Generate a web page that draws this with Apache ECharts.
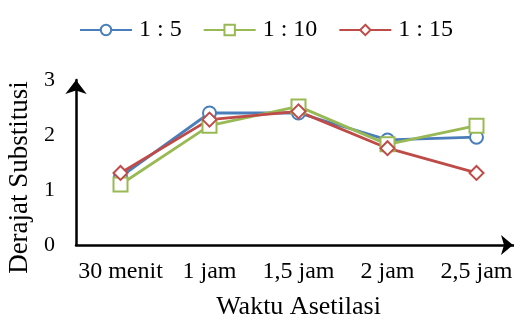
<!DOCTYPE html>
<html>
<head>
<meta charset="utf-8">
<script src="https://cdn.jsdelivr.net/npm/echarts@6/dist/echarts.min.js"></script>
<style>
  html, body { margin: 0; padding: 0; background: #fff; }
  #chart { width: 514px; height: 321px; }
</style>
</head>
<body>
<div id="chart"></div>
<script>
// Waktu asetilasi (kategori sumbu x)
const categories = ['30 menit', '1 jam', '1,5 jam', '2 jam', '2,5 jam'];
// Derajat substitusi untuk tiap rasio
const ratio1_5 = [1.24, 2.40, 2.40, 1.91, 1.96];
const ratio1_10 = [1.10, 2.17, 2.52, 1.83, 2.17];
const ratio1_15 = [1.31, 2.28, 2.43, 1.76, 1.31];
const seriesNames = ['1 : 5', '1 : 10', '1 : 15'];
const yTicks = [0, 1, 2, 3];

const FONT = '"Liberation Serif", "Times New Roman", serif';
const colors = ['#4A7EBB', '#98B954', '#BE4B48'];
const symbols = ['circle', 'rect', 'diamond'];
const symbolSizes = [13, 14, 14];
const values = [ratio1_5, ratio1_10, ratio1_15];

const chart = echarts.init(document.getElementById('chart'), null, { renderer: 'canvas' });
chart.setOption({
  animation: false,
  color: colors,
  textStyle: { fontFamily: FONT, color: '#000' },
  legend: {
    top: 13,
    left: 74,
    itemWidth: 52,
    itemHeight: 13,
    itemGap: 21,
    textStyle: { fontFamily: FONT, fontSize: 24, color: '#000', padding: [0, 0, 0, 2] },
    data: seriesNames
  },
  grid: {
    left: 76, right: -7, top: 80, bottom: 76,
    containLabel: false,
    outerBoundsMode: 'none'
  },
  xAxis: {
    type: 'category',
    data: categories,
    boundaryGap: true,
    name: 'Waktu Asetilasi',
    nameLocation: 'middle',
    nameGap: 49,
    nameTextStyle: { fontFamily: FONT, fontSize: 26, color: '#000' },
    axisLine: {
      lineStyle: { color: '#000', width: 2.5 },
      symbol: ['none', 'arrow'],
      symbolSize: [15, 12],
      symbolOffset: [0, -8]
    },
    axisTick: { show: false },
    axisLabel: { interval: 0, fontFamily: FONT, fontSize: 24, color: '#000', margin: 15 },
    splitLine: { show: false }
  },
  yAxis: {
    type: 'value',
    min: yTicks[0],
    max: yTicks[yTicks.length - 1],
    interval: 1,
    name: 'Derajat Substitusi',
    nameLocation: 'middle',
    nameGap: 35,
    nameRotate: 90,
    nameTextStyle: { fontFamily: FONT, fontSize: 27, color: '#000', padding: [0, 30, 0, 0] },
    axisLine: {
      show: true,
      lineStyle: { color: '#000', width: 2.5 },
      symbol: ['none', 'arrow'],
      symbolSize: [16, 14],
      symbolOffset: [0, 0]
    },
    axisTick: { show: false },
    axisLabel: { fontFamily: FONT, fontSize: 22, color: '#000', margin: 21 },
    splitLine: { show: false }
  },
  series: seriesNames.map((name, i) => ({
    name: name,
    type: 'line',
    data: values[i],
    symbol: symbols[i],
    symbolSize: symbolSizes[i],
    showAllSymbol: true,
    lineStyle: { color: colors[i], width: 2.8 },
    itemStyle: { color: '#fff', borderColor: colors[i], borderWidth: 2 },
    emphasis: { disabled: true }
  }))
});
</script>
</body>
</html>
